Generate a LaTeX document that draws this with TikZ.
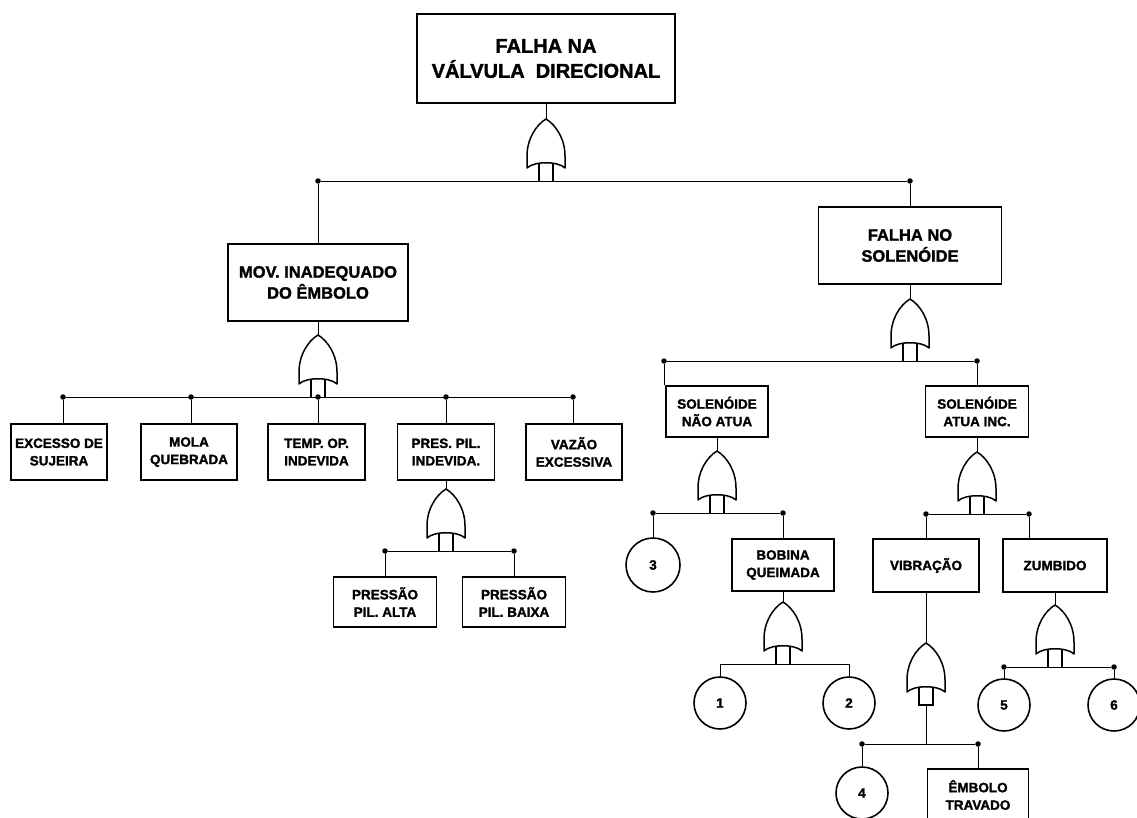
\documentclass[tikz,border=0pt]{standalone}
\usepackage{fontspec}
\setmainfont{Liberation Sans}[BoldFeatures={FakeBold=1.6}]
\begin{document}
\begin{tikzpicture}[x=1pt,y=-1pt,
  ev/.style={draw, line width=1.5pt, align=center, inner sep=0pt,
    font=\bfseries\fontsize{13.5}{17.5}\selectfont},
  evbig/.style={ev, font=\bfseries\fontsize{20}{25}\selectfont},
  evmid/.style={ev, font=\bfseries\fontsize{16.5}{21}\selectfont},
  basic/.style={circle, draw, line width=1.6pt, minimum size=52pt, inner sep=0pt,
    font=\bfseries\fontsize{13.5}{16}\selectfont},
  wire/.style={line width=0.8pt},
  dot/.style={circle, fill, inner sep=0pt, minimum size=5.5pt},
  orgate/.pic={
    \draw[line width=1.2pt] (-7,40) -- (-7,62) (7,40) -- (7,62);
    \draw[line width=1.5pt, fill=white, line join=round]
      (0,0) .. controls (10,6) and (19,20) .. (19,37) -- (19,49)
      .. controls (12,42) and (-12,42) .. (-19,49) -- (-19,37)
      .. controls (-19,20) and (-10,6) .. (0,0) -- cycle;
  },
  orgateclosed/.pic={
    \draw[line width=1.2pt] (-7,40) rectangle (7,62);
    \draw[line width=1.5pt, fill=white, line join=round]
      (0,0) .. controls (10,6) and (19,20) .. (19,37) -- (19,49)
      .. controls (12,42) and (-12,42) .. (-19,49) -- (-19,37)
      .. controls (-19,20) and (-10,6) .. (0,0) -- cycle;
  }]
\useasboundingbox (0,0) rectangle (1137,818);

% top event
\node[evbig, minimum width=258pt, minimum height=89pt] (top) at (546,58.5)
  {FALHA NA\\VÁLVULA\ \ DIRECIONAL};
\coordinate (g0) at (546,119);
\pic at (g0) {orgate};
\draw[wire] (top.south) -- (g0);
\node[dot] (d0a) at (318,181) {};
\node[dot] (d0b) at (910,181) {};
\draw[wire] (d0a) -- (d0b);

% second level
\node[evmid, minimum width=180pt, minimum height=77pt] (mov) at (318,282.5)
  {MOV. INADEQUADO\\DO ÊMBOLO};
\node[evmid, minimum width=183pt, minimum height=77pt] (fs) at (910,245.5)
  {FALHA NO\\SOLENÓIDE};
\draw[wire] (d0a) -- (mov.north);
\draw[wire] (d0b) -- (fs.north);

% causes of the piston fault
\coordinate (g1) at (318,335);
\pic at (g1) {orgate};
\draw[wire] (mov.south) -- (g1);
\node[dot] (r1) at (63,397) {};
\node[dot] (r2) at (191,397) {};
\node[dot] (r3) at (318,397) {};
\node[dot] (r4) at (446,397) {};
\node[dot] (r5) at (573,397) {};
\draw[wire] (r1) -- (r5);
\node[ev, minimum width=96pt, minimum height=56pt] (b1) at (59,452) {EXCESSO DE\\SUJEIRA};
\node[ev, minimum width=96pt, minimum height=56pt] (b2) at (189,452) {MOLA\\QUEBRADA};
\node[ev, minimum width=97pt, minimum height=56pt] (b3) at (316.5,452) {TEMP. OP.\\INDEVIDA};
\node[ev, minimum width=97pt, minimum height=56pt] (b4) at (446,452) {PRES. PIL.\\INDEVIDA.};
\node[ev, minimum width=96pt, minimum height=56pt] (b5) at (574,452) {VAZÃO\\EXCESSIVA};
\foreach \i in {1,...,5} \draw[wire] (r\i) -- (r\i |- b\i.north);

% pilot pressure
\coordinate (g2) at (446,489);
\pic at (g2) {orgate};
\draw[wire] (b4.south) -- (g2);
\node[dot] (q1) at (385,551) {};
\node[dot] (q2) at (514,551) {};
\draw[wire] (q1) -- (q2);
\node[ev, minimum width=103pt, minimum height=50pt] (p1) at (385,602) {PRESSÃO\\PIL. ALTA};
\node[ev, minimum width=103pt, minimum height=50pt] (p2) at (514,602) {PRESSÃO\\PIL. BAIXA};
\draw[wire] (q1) -- (p1.north);
\draw[wire] (q2) -- (p2.north);

% solenoid fault
\coordinate (g3) at (910,299);
\pic at (g3) {orgate};
\draw[wire] (fs.south) -- (g3);
\node[dot] (s1) at (664,361) {};
\node[dot] (s2) at (977,361) {};
\draw[wire] (s1) -- (s2);
\node[ev, minimum width=102pt, minimum height=51pt] (sn) at (717,411.5) {SOLENÓIDE\\NÃO ATUA};
\node[ev, minimum width=103pt, minimum height=51pt] (si) at (977,411.5) {SOLENÓIDE\\ATUA INC.};
\draw[wire] (s1) -- (s1 |- sn.north);
\draw[wire] (s2) -- (si.north);

% solenoid does not act
\coordinate (g4) at (717,451);
\pic at (g4) {orgate};
\draw[wire] (sn.south) -- (g4);
\node[dot] (n1) at (653,513) {};
\node[dot] (n2) at (783,513) {};
\draw[wire] (n1) -- (n2);
\node[basic, minimum size=54pt] (c3) at (653,565) {3};
\node[ev, minimum width=102pt, minimum height=52pt] (bob) at (783,565) {BOBINA\\QUEIMADA};
\draw[wire] (n1) -- (c3);
\draw[wire] (n2) -- (bob.north);

% burnt coil
\coordinate (g5) at (783,602);
\pic at (g5) {orgate};
\draw[wire] (bob.south) -- (g5);
\coordinate (e1) at (720,664);
\coordinate (e2) at (849,664);
\draw[wire] (e1) -- (e2);
\node[basic] (c1) at (720,703) {1};
\node[basic] (c2) at (849,703) {2};
\draw[wire] (e1) -- (c1);
\draw[wire] (e2) -- (c2);

% solenoid acts incorrectly
\coordinate (g6) at (977,452);
\pic at (g6) {orgate};
\draw[wire] (si.south) -- (g6);
\node[dot] (a1) at (926,514) {};
\node[dot] (a2) at (1029,514) {};
\draw[wire] (a1) -- (a2);
\node[ev, minimum width=106pt, minimum height=53pt] (vib) at (926,565.5) {VIBRAÇÃO};
\node[ev, minimum width=104pt, minimum height=53pt] (zum) at (1055,565.5) {ZUMBIDO};
\draw[wire] (a1) -- (vib.north);
\draw[wire] (a2) -- (a2 |- zum.north);

% vibration
\coordinate (g7) at (926,643);
\pic at (g7) {orgateclosed};
\draw[wire] (vib.south) -- (g7);
\coordinate (g7s) at (926,705);
\coordinate (g7b) at (926,744);
\draw[line width=0.6pt] (g7s) -- (g7b);
\node[dot] (v1) at (862,744) {};
\node[dot] (v2) at (978,744) {};
\draw[wire] (v1) -- (v2);
\node[basic] (c4) at (862,793) {4};
\node[ev, minimum width=101pt, minimum height=52pt] (emb) at (978,795) {ÊMBOLO\\TRAVADO};
\draw[wire] (v1) -- (c4);
\draw[wire] (v2) -- (emb.north);

% buzzing
\coordinate (g8) at (1055,605);
\pic at (g8) {orgate};
\draw[wire] (zum.south) -- (g8);
\node[dot] (z1) at (1004,667) {};
\node[dot] (z2) at (1114,667) {};
\draw[wire] (z1) -- (z2);
\node[basic] (c5) at (1004,705) {5};
\node[basic] (c6) at (1114,705) {6};
\draw[wire] (z1) -- (c5);
\draw[wire] (z2) -- (c6);
\end{tikzpicture}
\end{document}
